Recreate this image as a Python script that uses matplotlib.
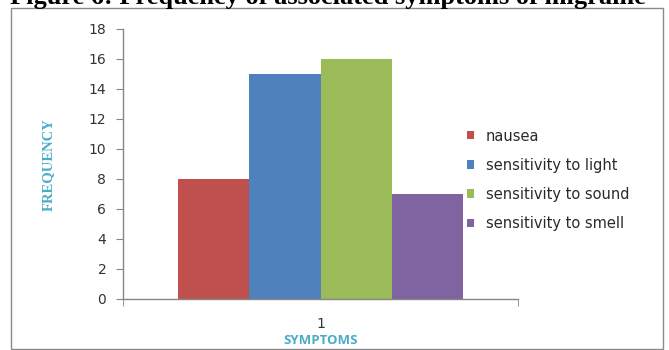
import matplotlib
matplotlib.use("Agg")
import matplotlib.pyplot as plt
from matplotlib.patches import Rectangle

# Symptom frequencies
symptoms = ["nausea", "sensitivity to light", "sensitivity to sound", "sensitivity to smell"]
frequency = [8, 15, 16, 7]
colors = ["#C0504D", "#4F81BD", "#9BBB59", "#8064A2"]
category = [1]
yticks = list(range(0, 19, 2))

W, H = 669, 350
fig = plt.figure(figsize=(W / 100, H / 100), dpi=100)

# outer chart frame
fig.add_artist(Rectangle((11 / W, 1 - 349 / H), (663 - 11) / W, (349 - 8) / H,
                         transform=fig.transFigure, fill=False,
                         edgecolor="#8a8a8a", linewidth=1.0))

# caption sitting above the frame
fig.text(10 / W, 1 - 4 / H, "Figure 6: Frequency of associated symptoms of migraine",
         family="Liberation Serif", fontweight="bold", fontsize=19,
         ha="left", va="baseline", color="black")

ax = fig.add_axes([123 / W, 1 - 299 / H, (518 - 123) / W, (299 - 29) / H])

width = 0.18
n = len(symptoms)
for i, (name, val, c) in enumerate(zip(symptoms, frequency, colors)):
    ax.bar(category[0] + (i - (n - 1) / 2) * width, val, width=width,
           color=c, label=name, linewidth=0)

ax.set_xlim(0.5, 1.5)
ax.set_ylim(0, 18)
ax.set_yticks(yticks)
ax.set_xticks(category)
ax.set_xticks([0.5, 1.5], minor=True)
ax.tick_params(axis="x", which="major", length=0, pad=13, labelsize=10, labelcolor="#333333")
ax.tick_params(axis="x", which="minor", length=5, color="#868686", direction="out")
ax.tick_params(axis="y", length=5, color="#868686", direction="out",
               labelsize=10, labelcolor="#333333", pad=7)
for lbl in ax.get_xticklabels() + ax.get_yticklabels():
    lbl.set_family("DejaVu Sans")

for s in ["top", "right"]:
    ax.spines[s].set_visible(False)
for s in ["left", "bottom"]:
    ax.spines[s].set_color("#868686")
    ax.spines[s].set_linewidth(1.0)

fig.text(48 / W, 1 - 165 / H, "FREQUENCY", rotation=90, ha="center", va="center",
         family="Liberation Serif", fontweight="bold", fontsize=10.5, color="#4BACC6")
fig.text(321 / W, 1 - 341 / H, "SYMPTOMS", ha="center", va="center",
         family="Open Sans", fontweight="bold", fontsize=9.5, color="#4BACC6")

leg = ax.legend(loc="upper left", bbox_to_anchor=(467 / W, 1 - 128.5 / H),
                bbox_transform=fig.transFigure, frameon=False,
                handlelength=0.5, handleheight=0.5, handletextpad=0.8,
                labelspacing=0.97, borderpad=0, borderaxespad=0,
                prop={"family": "DejaVu Sans", "size": 10.5}, labelcolor="#2a2a2a")

fig.savefig("out.png", dpi=100)
